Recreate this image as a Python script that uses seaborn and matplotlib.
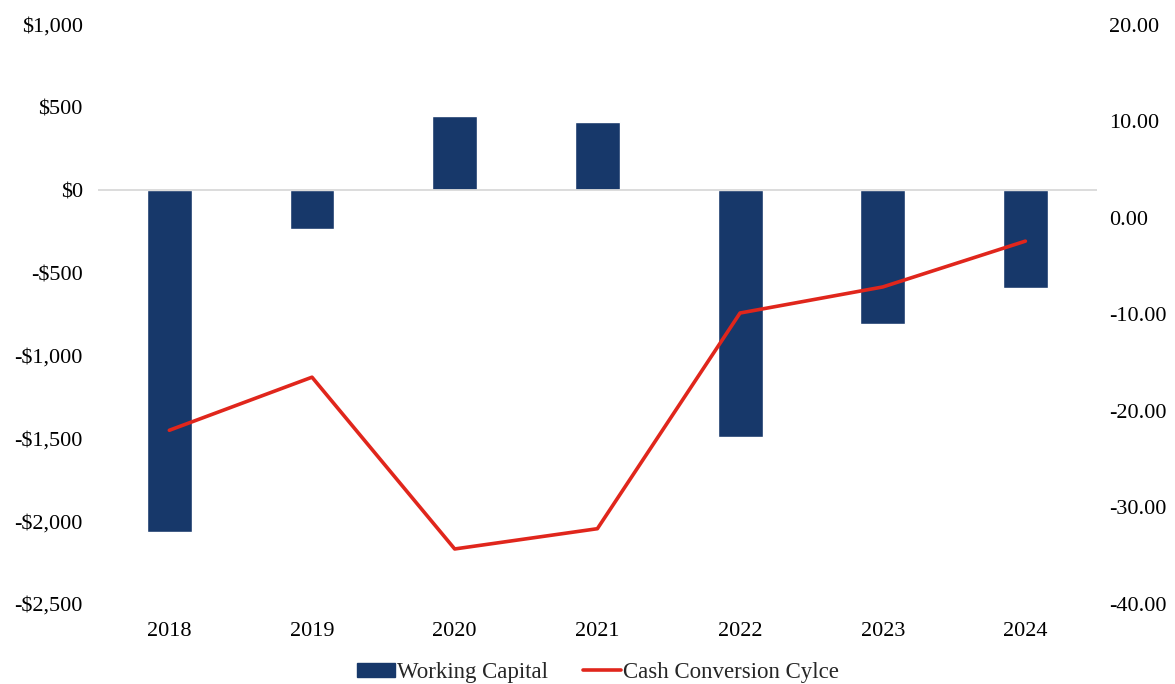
import matplotlib
matplotlib.use("Agg")
import matplotlib.pyplot as plt
from matplotlib.patches import Patch
from matplotlib.lines import Line2D
import seaborn as sns
import pandas as pd

years = ["2018", "2019", "2020", "2021", "2022", "2023", "2024"]
working_capital = [-2065, -235, 450, 412, -1490, -810, -590]
cash_conversion_cycle = [-22.0, -16.5, -34.3, -32.2, -9.85, -7.15, -2.4]

bar_color = "#17386A"
line_color = "#E0261C"

sns.set_theme(style="white")
plt.rcParams["font.family"] = ["Liberation Serif", "DejaVu Serif"]
plt.rcParams["font.size"] = 16

df = pd.DataFrame({"Year": years, "Working Capital": working_capital,
                   "Cash Conversion Cycle": cash_conversion_cycle})

fig = plt.figure(figsize=(11.75, 6.84), dpi=100)
ax = fig.add_axes([0.0834, 0.117, 0.850, 0.8465])

sns.barplot(data=df, x="Year", y="Working Capital", color=bar_color,
            width=0.315, saturation=1, ax=ax)
ax.axhline(0, color="#d9d9d9", lw=1.3, zorder=1)
ax.set_ylim(-2500, 1000)
ax.set_yticks(range(-2500, 1001, 500))
ax.set_yticklabels([("-$" if v < 0 else "$") + f"{abs(v):,}" for v in range(-2500, 1001, 500)])
ax.set_xlim(-0.5, len(years) - 0.5)
ax.set_xlabel("")
ax.set_ylabel("")
for s in ax.spines.values():
    s.set_visible(False)
ax.tick_params(axis="both", length=0, labelsize=16, colors="black")
ax.tick_params(axis="y", pad=11)
ax.tick_params(axis="x", pad=13)

ax2 = ax.twinx()
sns.lineplot(data=df, x="Year", y="Cash Conversion Cycle", color=line_color,
             lw=2.6, ax=ax2, sort=False)
ax2.set_ylim(-40, 20)
ax2.set_yticks(range(-40, 21, 10))
ax2.set_yticklabels([f"{v:.2f}" for v in range(-40, 21, 10)])
ax2.set_ylabel("")
for s in ax2.spines.values():
    s.set_visible(False)
ax2.tick_params(axis="y", length=0, labelsize=16, pad=9, colors="black")
ax.set_xlim(-0.5, len(years) - 0.5)

handles = [Patch(facecolor=bar_color, edgecolor=bar_color),
           Line2D([0], [0], color=line_color, lw=2.6)]
fig.legend(handles, ["Working Capital", "Cash Conversion Cylce"],
           loc="center", bbox_to_anchor=(0.509, 0.017), ncol=2, frameon=False,
           fontsize=16.5, handlelength=1.65, handleheight=0.55,
           handletextpad=0.12, columnspacing=1.5)

fig.savefig("out.png", dpi=100, facecolor="white")
